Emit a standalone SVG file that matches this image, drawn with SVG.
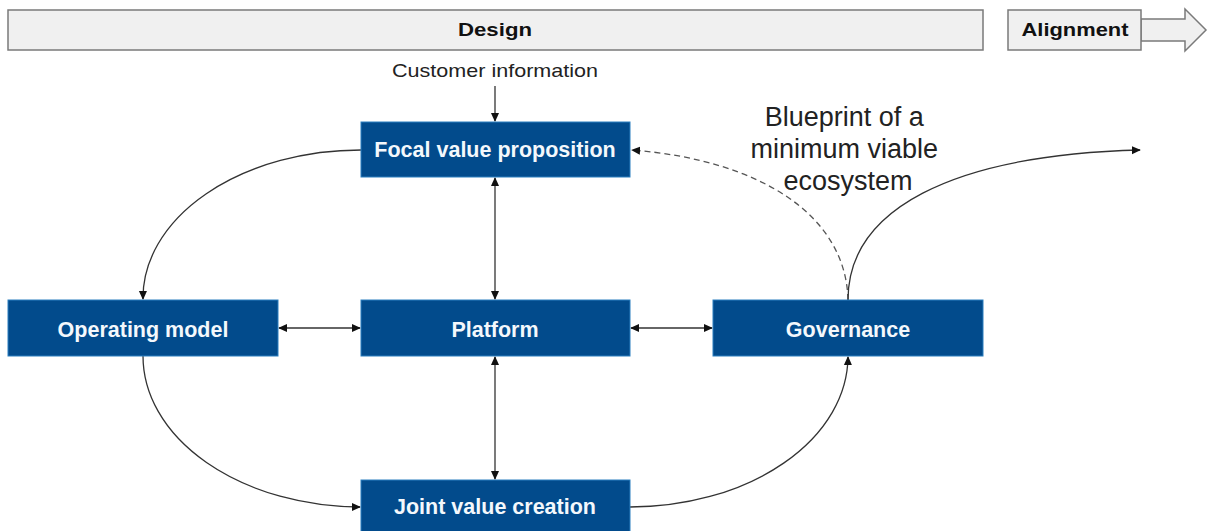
<svg xmlns="http://www.w3.org/2000/svg" width="1208" height="531" viewBox="0 0 1208 531">
  <defs>
    <style>
      .phase { fill: #f0f0f0; stroke: #7a7a7a; stroke-width: 1.5; }
      .phase-label { font-family: "Liberation Sans", Arial, sans-serif; font-weight: bold; font-size: 18px; fill: #111; text-anchor: middle; }
      .box { fill: #024b8c; stroke: #2a7fbf; stroke-width: 1; }
      .box-label { font-family: "Liberation Sans", Arial, sans-serif; font-weight: bold; font-size: 21.5px; fill: #f4f8fc; text-anchor: middle; }
      .note { font-family: "Liberation Sans", Arial, sans-serif; fill: #222; text-anchor: middle; }
      .link { fill: none; stroke: #333; stroke-width: 1.3; }
      .dashed { stroke: #555; stroke-dasharray: 6 4; }
    </style>
    <marker id="head" viewBox="0 0 10 10" refX="9" refY="5" markerWidth="9" markerHeight="9" markerUnits="userSpaceOnUse" orient="auto">
      <path d="M0,0.5 L10,5 L0,9.5 Z" fill="#111"/>
    </marker>
    <marker id="tail" viewBox="0 0 10 10" refX="1" refY="5" markerWidth="9" markerHeight="9" markerUnits="userSpaceOnUse" orient="auto">
      <path d="M10,0.5 L0,5 L10,9.5 Z" fill="#111"/>
    </marker>
  </defs>

  <!-- phase banner -->
  <g id="phase-design">
    <rect class="phase" x="8" y="10" width="975" height="40"/>
    <text class="phase-label" x="495" y="36" textLength="74" lengthAdjust="spacingAndGlyphs">Design</text>
  </g>
  <g id="phase-alignment">
    <path class="phase" d="M1141,19 H1185 V9 L1206,30 L1185,51 V41 H1141 Z"/>
    <rect class="phase" x="1008" y="10" width="133" height="40"/>
    <text class="phase-label" x="1075" y="36" textLength="107" lengthAdjust="spacingAndGlyphs">Alignment</text>
  </g>

  <!-- connectors -->
  <g id="connectors">
    <!-- customer input -->
    <line class="link" x1="495" y1="86" x2="495" y2="121" marker-end="url(#head)"/>
    <!-- two-way links around the platform -->
    <line class="link" x1="495" y1="178" x2="495" y2="299" marker-start="url(#tail)" marker-end="url(#head)"/>
    <line class="link" x1="495" y1="357" x2="495" y2="479" marker-start="url(#tail)" marker-end="url(#head)"/>
    <line class="link" x1="279" y1="328" x2="360" y2="328" marker-start="url(#tail)" marker-end="url(#head)"/>
    <line class="link" x1="631" y1="328" x2="712" y2="328" marker-start="url(#tail)" marker-end="url(#head)"/>
    <!-- outer cycle -->
    <path class="link" d="M361,150 A218,148 0 0 0 143,299" marker-end="url(#head)"/>
    <path class="link" d="M143,356 A218,151 0 0 0 360,507" marker-end="url(#head)"/>
    <path class="link" d="M630,507 A218,151 0 0 0 848,357" marker-end="url(#head)"/>
    <!-- feedback and hand-over from governance -->
    <path class="link dashed" d="M848,300 C846,215 760,160 632,150" marker-end="url(#head)"/>
    <path class="link" d="M848,300 C848,210 950,155 1140,150" marker-end="url(#head)"/>
  </g>

  <!-- nodes -->
  <g id="node-focal">
    <rect class="box" x="361" y="122" width="269" height="55"/>
    <text class="box-label" x="495" y="157">Focal value proposition</text>
  </g>
  <g id="node-operating">
    <rect class="box" x="8" y="300" width="270" height="56"/>
    <text class="box-label" x="143" y="337">Operating model</text>
  </g>
  <g id="node-platform">
    <rect class="box" x="361" y="300" width="269" height="56"/>
    <text class="box-label" x="495" y="337">Platform</text>
  </g>
  <g id="node-governance">
    <rect class="box" x="713" y="300" width="270" height="56"/>
    <text class="box-label" x="848" y="337">Governance</text>
  </g>
  <g id="node-joint">
    <rect class="box" x="361" y="480" width="269" height="60"/>
    <text class="box-label" x="495" y="514">Joint value creation</text>
  </g>

  <!-- annotations -->
  <g id="label-customer">
    <text class="note" x="495" y="77" font-size="19" textLength="206" lengthAdjust="spacingAndGlyphs">Customer information</text>
  </g>
  <g id="label-blueprint">
    <text class="note" font-size="27">
      <tspan x="848" y="126">Blueprint of a</tspan>
      <tspan x="848" y="158">minimum viable</tspan>
      <tspan x="848" y="190">ecosystem</tspan>
    </text>
  </g>
</svg>
